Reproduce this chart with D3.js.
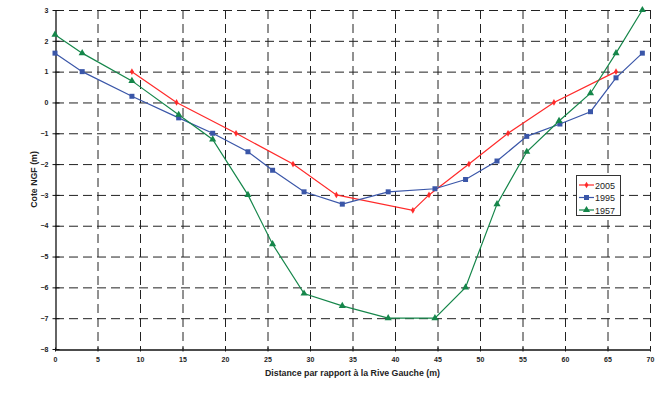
<!DOCTYPE html>
<html>
<head>
<meta charset="utf-8">
<script src="https://cdn.jsdelivr.net/npm/d3@7"></script>
<style>
  body { margin: 0; background: #fff; }
  svg { display: block; font-family: "Liberation Sans", Arial, sans-serif; }
  .tick text { font-size: 7px; font-weight: bold; fill: #222; }
  .gridline { stroke: #222; stroke-dasharray: 9,5; stroke-width: 1; }
</style>
</head>
<body>
<div id="chart"></div>
<script>
// Distance (m) and elevation (m NGF) for each survey year
const x2005 = [9.05, 14.3, 21.3, 28.0, 33.1, 42.1, 44.0, 48.7, 53.3, 58.7, 66.0];
const y2005 = [1.0, 0.0, -1.0, -2.0, -3.0, -3.5, -3.0, -2.0, -1.0, 0.0, 1.0];

const x1995 = [0, 3.2, 9.05, 14.55, 18.55, 22.7, 25.6, 29.3, 33.8, 39.2, 44.7, 48.3, 52.0, 55.5, 59.4, 63.0, 66.0, 69.1];
const y1995 = [1.6, 1.0, 0.2, -0.5, -1.0, -1.6, -2.2, -2.9, -3.3, -2.9, -2.8, -2.5, -1.9, -1.1, -0.7, -0.3, 0.8, 1.6];

const x1957 = [0, 3.2, 9.05, 14.55, 18.55, 22.7, 25.6, 29.3, 33.8, 39.2, 44.7, 48.3, 52.0, 55.5, 59.3, 63.0, 66.0, 69.1];
const y1957 = [2.2, 1.6, 0.7, -0.4, -1.2, -3.0, -4.6, -6.2, -6.6, -7.0, -7.0, -6.0, -3.3, -1.6, -0.6, 0.3, 1.6, 3.0];

const xTicks = d3.range(0, 71, 5);
const yTicks = d3.range(-8, 4, 1);

const series = [
  { name: "2005", xs: x2005, ys: y2005, color: "#ff2a2a", symbol: d3.symbolDiamond, size: 13 },
  { name: "1995", xs: x1995, ys: y1995, color: "#3a56a8", symbol: d3.symbolSquare, size: 25 },
  { name: "1957", xs: x1957, ys: y1957, color: "#15864a", symbol: d3.symbolTriangle, size: 22 },
];

const width = 667, height = 394;
const margin = { top: 10, right: 17, bottom: 45, left: 55 };
const innerW = width - margin.left - margin.right,
  innerH = height - margin.top - margin.bottom;

const svg = d3.select("#chart").append("svg")
  .attr("width", width)
  .attr("height", height);

const g = svg.append("g")
  .attr("transform", "translate(" + margin.left + "," + margin.top + ")");

const x = d3.scaleLinear().domain([0, 70]).range([0, innerW]);
const y = d3.scaleLinear().domain([-8, 3]).range([innerH, 0]);

// Grid
g.append("g").selectAll("line")
  .data(yTicks.filter(d => d > -8))
  .enter().append("line")
  .attr("class", "gridline")
  .attr("x1", 0).attr("x2", innerW)
  .attr("y1", d => y(d) + 0.5).attr("y2", d => y(d) + 0.5);

g.append("g").selectAll("line")
  .data(xTicks.filter(d => d > 0))
  .enter().append("line")
  .attr("class", "gridline")
  .attr("x1", d => x(d) + 0.5).attr("x2", d => x(d) + 0.5)
  .attr("y1", 0).attr("y2", innerH);

// Axes
const xAxis = g.append("g")
  .attr("transform", "translate(0," + (innerH + 0.5) + ")")
  .call(d3.axisBottom(x).tickValues(xTicks).tickSizeInner(2).tickSizeOuter(0).tickPadding(6));
const yAxis = g.append("g")
  .attr("transform", "translate(0.5,0)")
  .call(d3.axisLeft(y).tickValues(yTicks).tickSizeInner(3).tickSizeOuter(0).tickPadding(4));

[xAxis, yAxis].forEach(a => {
  a.select(".domain").attr("stroke", "#111").attr("stroke-width", 1.3);
  a.selectAll(".tick line").attr("stroke", "#111");
});
yAxis.selectAll(".tick").append("line")
  .attr("x1", 0).attr("x2", 4).attr("stroke", "#111");
xAxis.selectAll(".tick").append("line")
  .attr("y1", 0).attr("y2", -2).attr("stroke", "#111");

// Axis titles
svg.append("text")
  .attr("x", margin.left + innerW / 2)
  .attr("y", 376)
  .attr("text-anchor", "middle")
  .style("font-size", "8.8px")
  .style("font-weight", "bold")
  .attr("fill", "#222")
  .text("Distance par rapport à la Rive Gauche (m)");

svg.append("text")
  .attr("transform", "translate(37," + (margin.top + innerH / 2) + ") rotate(-90)")
  .attr("text-anchor", "middle")
  .style("font-size", "8.8px")
  .style("font-weight", "bold")
  .attr("fill", "#222")
  .text("Cote NGF (m)");

// Lines and markers
const line = d3.line().x(d => x(d[0])).y(d => y(d[1]));

series.forEach(s => {
  const pts = s.xs.map((v, i) => [v, s.ys[i]]);
  g.append("path")
    .datum(pts)
    .attr("fill", "none")
    .attr("stroke", s.color)
    .attr("stroke-width", 1.2)
    .attr("d", line);
  g.append("g").selectAll("path")
    .data(pts)
    .enter().append("path")
    .attr("transform", d => "translate(" + x(d[0]) + "," + y(d[1]) + ")")
    .attr("d", d3.symbol().type(s.symbol).size(s.size))
    .attr("fill", s.color);
});

// Legend
const legend = svg.append("g").attr("transform", "translate(576,175)");
legend.append("rect")
  .attr("x", 0.5).attr("y", 0.5)
  .attr("width", 44).attr("height", 40)
  .attr("fill", "#fff")
  .attr("stroke", "#333")
  .attr("stroke-width", 1);

series.forEach((s, i) => {
  const ly = 10 + i * 12.5;
  legend.append("line")
    .attr("x1", 3).attr("x2", 18)
    .attr("y1", ly).attr("y2", ly)
    .attr("stroke", s.color).attr("stroke-width", 1.2);
  legend.append("path")
    .attr("transform", "translate(10.5," + ly + ")")
    .attr("d", d3.symbol().type(s.symbol).size(s.size))
    .attr("fill", s.color);
  legend.append("text")
    .attr("x", 19).attr("y", ly + 3.5)
    .style("font-size", "9px")
    .attr("fill", "#222")
    .text(s.name);
});
</script>
</body>
</html>
